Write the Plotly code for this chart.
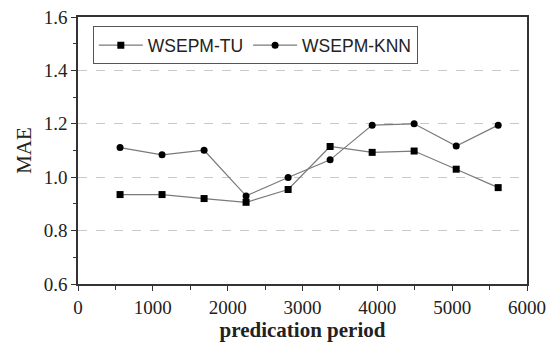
import plotly.graph_objects as go

periods = [562, 1123, 1685, 2246, 2808, 3369, 3931, 4492, 5054, 5615]
mae_tu = [0.935, 0.935, 0.920, 0.906, 0.954, 1.115, 1.093, 1.098, 1.030, 0.961]
mae_knn = [1.111, 1.084, 1.101, 0.930, 0.999, 1.065, 1.195, 1.200, 1.117, 1.195]

x_ticks = [0, 1000, 2000, 3000, 4000, 5000, 6000]
y_ticks = [0.6, 0.8, 1.0, 1.2, 1.4, 1.6]

fig = go.Figure()
fig.add_trace(go.Scatter(
    x=periods, y=mae_tu, name="WSEPM-TU", mode="lines+markers",
    line=dict(color="#7a7a7a", width=1.2),
    marker=dict(symbol="square", size=7, color="black"),
))
fig.add_trace(go.Scatter(
    x=periods, y=mae_knn, name="WSEPM-KNN", mode="lines+markers",
    line=dict(color="#7a7a7a", width=1.2),
    marker=dict(symbol="circle", size=7, color="black"),
))

serif = "Liberation Serif, Times New Roman, serif"

fig.update_layout(
    width=554, height=344,
    margin=dict(l=78, r=27, t=17, b=60),
    paper_bgcolor="white", plot_bgcolor="white",
    showlegend=True,
    legend=dict(
        orientation="h", x=0.033, y=0.965, xanchor="left", yanchor="top",
        bordercolor="#555", borderwidth=1, bgcolor="white",
        font=dict(family="Liberation Sans, Arial, sans-serif", size=17.5, color="#222"),
        tracegroupgap=0, itemwidth=44,
    ),
    xaxis=dict(
        range=[0, 6000], tickvals=x_ticks, ticktext=[str(v) for v in x_ticks],
        automargin=False,
        showgrid=False, zeroline=False,
        showline=True, linecolor="#333", linewidth=1.5, mirror=True,
        ticks="outside", ticklen=5, tickcolor="#333",
        minor=dict(dtick=500, ticks="outside", ticklen=4, tickcolor="#333", showgrid=False),
        tickfont=dict(family=serif, size=19, color="#222"),
        title=dict(text="<b>predication period</b>", font=dict(family=serif, size=21, color="#222"), standoff=6),
    ),
    yaxis=dict(
        range=[0.6, 1.6], tickvals=y_ticks, ticktext=[f"{v:.1f}" for v in y_ticks],
        automargin=False,
        showgrid=True, gridcolor="#c8c8c8", griddash="dash", gridwidth=1,
        zeroline=False,
        showline=True, linecolor="#333", linewidth=1.5, mirror=True,
        ticks="outside", ticklen=5, tickcolor="#333",
        minor=dict(dtick=0.1, ticks="outside", ticklen=3, tickcolor="#333", showgrid=False),
        tickfont=dict(family=serif, size=19, color="#222"),
        title=dict(text="MAE", font=dict(family=serif, size=21, color="#222"), standoff=6),
    ),
)

fig.write_html("out.html")
